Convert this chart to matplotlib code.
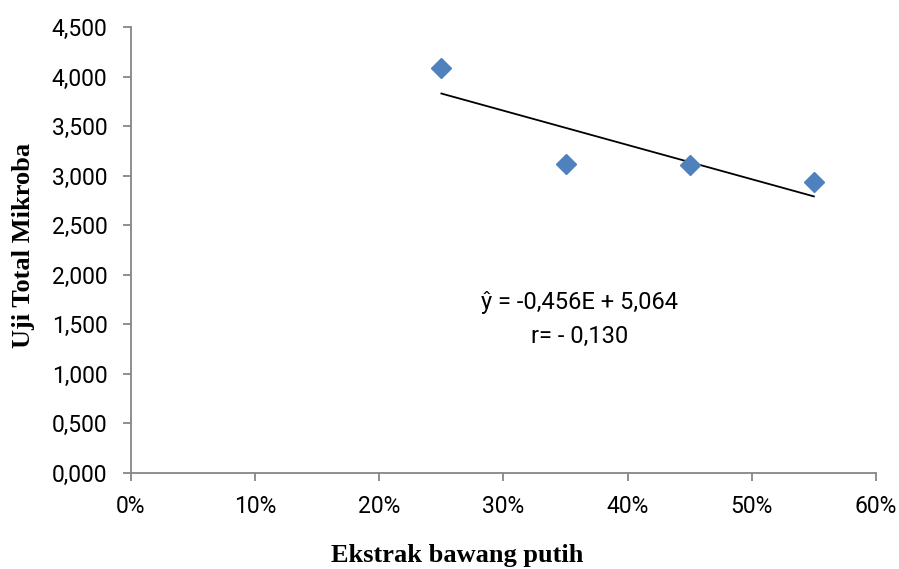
import numpy as np
import matplotlib.pyplot as plt
from matplotlib.ticker import FuncFormatter

# data
ekstrak = np.array([0.25, 0.35, 0.45, 0.55])
mikroba = np.array([4.085, 3.115, 3.105, 2.935])

x_ticks = [0, 0.1, 0.2, 0.3, 0.4, 0.5, 0.6]
y_ticks = [0, 0.5, 1.0, 1.5, 2.0, 2.5, 3.0, 3.5, 4.0, 4.5]

persamaan = 'ŷ = -0,456E + 5,064'
korelasi = 'r= - 0,130'

plt.rcParams['font.family'] = ['Roboto', 'DejaVu Sans']

fig = plt.figure(figsize=(8.99, 5.69), dpi=100)
ax = fig.add_axes([0.1457, 0.1687, 0.8287, 0.7838])

# garis regresi
m, c = np.polyfit(ekstrak, mikroba, 1)
xl = np.array([ekstrak.min(), ekstrak.max()])
ax.plot(xl, m * xl + c, color='black', lw=1.3, zorder=2)

ax.plot(ekstrak, mikroba, 'D', color='#4F81BD', markersize=10, zorder=3)

ax.set_xlim(0, 0.6)
ax.set_ylim(0, 4.5)
ax.set_xticks(x_ticks)
ax.set_yticks(y_ticks)
ax.xaxis.set_major_formatter(FuncFormatter(lambda v, p: '%d%%' % round(v * 100)))
ax.yaxis.set_major_formatter(FuncFormatter(lambda v, p: ('%.3f' % v).replace('.', ',')))

for s in ['top', 'right']:
    ax.spines[s].set_visible(False)
for s in ['left', 'bottom']:
    ax.spines[s].set_color('#868686')
    ax.spines[s].set_linewidth(1.3)
ax.tick_params(colors='#868686', labelcolor='black', labelsize=16.5, length=6, width=1.3)
ax.tick_params(axis='x', pad=10)
ax.tick_params(axis='y', pad=11)

ax.text(0.3616, 1.725, persamaan, ha='center', va='center', fontsize=17)
ax.text(0.3616, 1.38, korelasi, ha='center', va='center', fontsize=17)

fig.text(0.509, 0.024, 'Ekstrak bawang putih', ha='center', va='center',
         fontsize=19, fontweight='bold', family='Liberation Serif')
fig.text(0.026, 0.569, 'Uji Total Mikroba', ha='center', va='center', rotation=90,
         fontsize=19, fontweight='bold', family='Liberation Serif')

fig.savefig('out.png', dpi=100)
